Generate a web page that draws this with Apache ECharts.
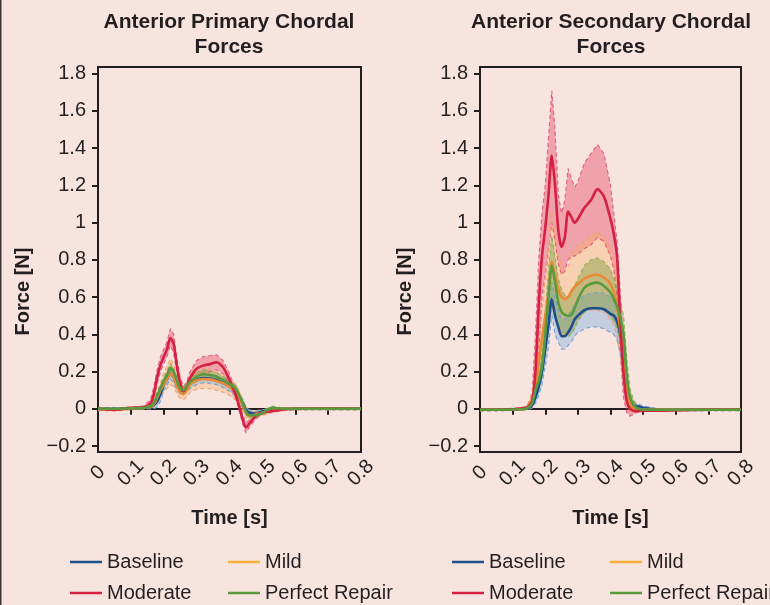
<!DOCTYPE html>
<html>
<head>
<meta charset="utf-8">
<title>Anterior Chordal Forces</title>
<script src="https://cdn.jsdelivr.net/npm/echarts@6.0.0/dist/echarts.min.js"></script>
<style>
html,body{margin:0;padding:0;background:#f8e4df;}
#main{width:770px;height:605px;}
</style>
</head>
<body>
<div id="main"></div>
<script>
// ---------- Tick labels ----------
const yTicks = [-0.2, 0, 0.2, 0.4, 0.6, 0.8, 1, 1.2, 1.4, 1.6, 1.8];
const conditions = ['Baseline', 'Mild', 'Moderate', 'Perfect Repair'];

// ---------- Anterior Primary Chordal Forces (left) ----------
const timeA = [0, 0.05, 0.1, 0.14, 0.16, 0.17, 0.18, 0.19, 0.2, 0.21, 0.22, 0.23, 0.24, 0.25, 0.26, 0.27, 0.28, 0.3, 0.32, 0.34, 0.36, 0.38, 0.4, 0.42, 0.44, 0.45, 0.46, 0.48, 0.5, 0.53, 0.56, 0.6, 0.7, 0.8];

const baseA_mean = [0, 0, 0.002, 0.005, 0.01, 0.02, 0.04, 0.08, 0.13, 0.16, 0.19, 0.17, 0.13, 0.1, 0.095, 0.11, 0.135, 0.155, 0.165, 0.162, 0.155, 0.14, 0.12, 0.09, 0.03, -0.005, -0.02, -0.025, -0.015, -0.005, 0, 0, 0, 0];
const baseA_lo = [-0.005, -0.005, -0.003, 0, 0, 0, 0.01, 0.04, 0.1, 0.13, 0.16, 0.14, 0.1, 0.08, 0.075, 0.09, 0.11, 0.13, 0.14, 0.137, 0.13, 0.115, 0.095, 0.065, 0.005, -0.025, -0.035, -0.035, -0.025, -0.012, -0.005, -0.005, -0.004, -0.004];
const baseA_hi = [0.005, 0.005, 0.006, 0.01, 0.02, 0.035, 0.065, 0.11, 0.15, 0.18, 0.21, 0.19, 0.15, 0.12, 0.11, 0.13, 0.155, 0.175, 0.185, 0.185, 0.178, 0.163, 0.143, 0.11, 0.05, 0.012, -0.005, -0.012, -0.005, 0.002, 0.005, 0.004, 0.004, 0.004];

const mildA_mean = [0, -0.005, 0.002, 0.005, 0.012, 0.025, 0.06, 0.1, 0.13, 0.16, 0.19, 0.17, 0.12, 0.09, 0.08, 0.1, 0.13, 0.152, 0.16, 0.158, 0.15, 0.138, 0.118, 0.088, 0.02, -0.02, -0.04, -0.03, -0.02, -0.01, 0, 0, 0, 0];
const mildA_lo = [-0.01, -0.012, -0.005, 0, 0.005, 0.01, 0.04, 0.07, 0.09, 0.11, 0.13, 0.12, 0.08, 0.055, 0.05, 0.065, 0.09, 0.105, 0.11, 0.108, 0.1, 0.09, 0.072, 0.045, -0.01, -0.045, -0.06, -0.05, -0.035, -0.02, -0.008, -0.005, -0.005, -0.005];
const mildA_hi = [0.008, 0.002, 0.01, 0.012, 0.02, 0.045, 0.09, 0.14, 0.19, 0.23, 0.27, 0.24, 0.17, 0.13, 0.115, 0.14, 0.17, 0.2, 0.21, 0.21, 0.2, 0.185, 0.16, 0.13, 0.05, 0.01, -0.015, -0.01, -0.005, 0, 0.008, 0.005, 0.005, 0.005];

const modA_mean = [0, -0.005, 0.005, 0.01, 0.03, 0.08, 0.17, 0.235, 0.28, 0.32, 0.38, 0.35, 0.23, 0.14, 0.095, 0.12, 0.165, 0.215, 0.232, 0.24, 0.25, 0.225, 0.155, 0.07, -0.055, -0.1, -0.08, -0.04, -0.02, -0.012, -0.005, 0, 0, 0];
const modA_lo = [-0.005, -0.01, 0, 0.005, 0.015, 0.05, 0.13, 0.2, 0.245, 0.28, 0.34, 0.3, 0.19, 0.11, 0.075, 0.095, 0.13, 0.17, 0.19, 0.2, 0.21, 0.19, 0.125, 0.05, -0.08, -0.13, -0.1, -0.055, -0.03, -0.02, -0.01, -0.005, -0.005, -0.005];
const modA_hi = [0.005, 0, 0.01, 0.015, 0.05, 0.12, 0.21, 0.28, 0.32, 0.36, 0.43, 0.4, 0.27, 0.17, 0.12, 0.145, 0.2, 0.26, 0.28, 0.285, 0.29, 0.26, 0.19, 0.09, -0.03, -0.075, -0.06, -0.025, -0.01, -0.004, 0.003, 0.005, 0.005, 0.005];

const repA_mean = [0, 0, 0.003, 0.005, 0.015, 0.03, 0.07, 0.11, 0.15, 0.18, 0.22, 0.2, 0.15, 0.11, 0.1, 0.12, 0.145, 0.172, 0.186, 0.182, 0.172, 0.155, 0.135, 0.105, 0.03, -0.015, -0.035, -0.035, -0.022, 0.005, 0, 0, 0, 0];
const repA_lo = [-0.004, -0.004, -0.002, 0, 0.005, 0.015, 0.05, 0.09, 0.13, 0.16, 0.195, 0.18, 0.13, 0.09, 0.085, 0.1, 0.125, 0.15, 0.163, 0.16, 0.15, 0.135, 0.115, 0.085, 0.01, -0.03, -0.05, -0.048, -0.032, -0.005, -0.005, -0.004, -0.004, -0.004];
const repA_hi = [0.004, 0.004, 0.008, 0.01, 0.025, 0.045, 0.09, 0.13, 0.17, 0.2, 0.245, 0.22, 0.17, 0.13, 0.115, 0.14, 0.165, 0.195, 0.21, 0.205, 0.195, 0.175, 0.155, 0.125, 0.05, 0, -0.02, -0.022, -0.01, 0.015, 0.005, 0.004, 0.004, 0.004];

// ---------- Anterior Secondary Chordal Forces (right) ----------
const timeB = [0, 0.05, 0.1, 0.14, 0.15, 0.16, 0.17, 0.18, 0.19, 0.2, 0.21, 0.22, 0.23, 0.24, 0.25, 0.26, 0.27, 0.28, 0.29, 0.3, 0.32, 0.34, 0.36, 0.38, 0.4, 0.41, 0.42, 0.43, 0.44, 0.45, 0.46, 0.47, 0.48, 0.5, 0.55, 0.6, 0.7, 0.8];

const baseB_mean = [-0.005, -0.005, -0.004, 0, 0.005, 0.02, 0.06, 0.12, 0.2, 0.32, 0.45, 0.59, 0.5, 0.44, 0.39, 0.39, 0.41, 0.44, 0.48, 0.5, 0.53, 0.54, 0.54, 0.535, 0.51, 0.5, 0.47, 0.4, 0.28, 0.12, 0.05, 0.02, 0.015, 0.005, -0.005, -0.005, -0.005, -0.005];
const baseB_lo = [-0.01, -0.01, -0.008, -0.005, -0.002, 0.005, 0.03, 0.07, 0.13, 0.23, 0.34, 0.5, 0.4, 0.36, 0.32, 0.32, 0.34, 0.36, 0.39, 0.41, 0.43, 0.44, 0.44, 0.43, 0.41, 0.4, 0.37, 0.3, 0.18, 0.05, 0.01, 0, -0.005, -0.008, -0.01, -0.01, -0.01, -0.01];
const baseB_hi = [0, 0, 0, 0.005, 0.012, 0.035, 0.09, 0.17, 0.27, 0.41, 0.56, 0.68, 0.6, 0.53, 0.48, 0.48, 0.5, 0.53, 0.56, 0.58, 0.61, 0.62, 0.625, 0.62, 0.6, 0.59, 0.56, 0.5, 0.38, 0.2, 0.08, 0.04, 0.03, 0.015, 0, 0, 0, 0];

const mildB_mean = [-0.005, -0.005, -0.004, 0.002, 0.02, 0.05, 0.12, 0.25, 0.38, 0.5, 0.62, 0.79, 0.72, 0.64, 0.6, 0.59, 0.6, 0.63, 0.655, 0.67, 0.7, 0.715, 0.72, 0.705, 0.67, 0.63, 0.55, 0.42, 0.25, 0.1, 0.03, 0, -0.005, -0.005, -0.005, -0.005, -0.005, -0.005];
const mildB_lo = [-0.01, -0.01, -0.008, -0.004, 0.005, 0.02, 0.06, 0.14, 0.24, 0.33, 0.43, 0.55, 0.5, 0.45, 0.41, 0.39, 0.4, 0.43, 0.46, 0.49, 0.52, 0.53, 0.53, 0.52, 0.48, 0.45, 0.39, 0.28, 0.14, 0.03, -0.005, -0.01, -0.01, -0.01, -0.01, -0.01, -0.01, -0.01];
const mildB_hi = [0, 0, 0, 0.008, 0.04, 0.09, 0.2, 0.38, 0.54, 0.7, 0.84, 1.06, 0.95, 0.82, 0.77, 0.75, 0.76, 0.82, 0.86, 0.88, 0.9, 0.93, 0.95, 0.92, 0.86, 0.8, 0.7, 0.56, 0.36, 0.17, 0.07, 0.02, 0.005, 0, 0, 0, 0, 0];

const modB_mean = [-0.005, -0.005, -0.003, 0.005, 0.015, 0.04, 0.2, 0.55, 0.82, 0.97, 1.15, 1.36, 1.2, 0.96, 0.87, 0.92, 1.06, 1.03, 1.0, 1.02, 1.08, 1.12, 1.18, 1.14, 1.02, 0.94, 0.82, 0.46, 0.19, 0.04, 0, -0.01, -0.012, -0.01, -0.01, -0.008, -0.005, -0.005];
const modB_lo = [-0.01, -0.01, -0.008, -0.002, 0, 0.005, 0.05, 0.3, 0.6, 0.72, 0.85, 1.0, 0.9, 0.78, 0.72, 0.74, 0.8, 0.82, 0.82, 0.83, 0.86, 0.88, 0.92, 0.9, 0.82, 0.75, 0.6, 0.3, 0.06, -0.02, -0.04, -0.03, -0.02, -0.015, -0.012, -0.01, -0.008, -0.008];
const modB_hi = [0, 0, 0.002, 0.01, 0.03, 0.09, 0.4, 0.8, 1.05, 1.2, 1.45, 1.71, 1.5, 1.15, 1.05, 1.12, 1.29, 1.24, 1.19, 1.22, 1.32, 1.37, 1.42, 1.37, 1.2, 1.05, 0.9, 0.62, 0.3, 0.1, 0.02, 0, -0.005, -0.003, 0, 0, 0, 0];

const repB_mean = [-0.005, -0.005, -0.004, 0, 0.01, 0.03, 0.1, 0.15, 0.23, 0.4, 0.6, 0.77, 0.68, 0.57, 0.52, 0.505, 0.5, 0.505, 0.54, 0.586, 0.65, 0.672, 0.678, 0.66, 0.625, 0.59, 0.55, 0.49, 0.4, 0.17, 0.06, 0.025, 0.005, -0.005, -0.005, -0.005, -0.005, -0.005];
const repB_lo = [-0.01, -0.01, -0.008, -0.004, 0, 0.015, 0.06, 0.1, 0.16, 0.3, 0.47, 0.62, 0.52, 0.44, 0.4, 0.39, 0.39, 0.4, 0.43, 0.47, 0.52, 0.54, 0.545, 0.53, 0.5, 0.47, 0.43, 0.36, 0.28, 0.08, 0.01, 0, -0.008, -0.01, -0.01, -0.01, -0.01, -0.01];
const repB_hi = [0, 0, 0, 0.005, 0.02, 0.05, 0.14, 0.21, 0.31, 0.52, 0.75, 0.93, 0.82, 0.7, 0.64, 0.61, 0.6, 0.62, 0.66, 0.7, 0.77, 0.8, 0.81, 0.79, 0.75, 0.7, 0.65, 0.58, 0.5, 0.27, 0.11, 0.05, 0.02, 0.005, 0, 0, 0, 0];

// ---------- Styles ----------
const FONT = '"Liberation Sans", Arial, Helvetica, sans-serif';
const INK = '#231f20';
const BG = '#f8e4df';
const lineColors = { 'Baseline': '#1d4f8c', 'Mild': '#ea8a35', 'Moderate': '#d51f43', 'Perfect Repair': '#5b9a3c' };
const legendColors = { 'Baseline': '#1d4f8c', 'Mild': '#f6b13a', 'Moderate': '#d51f43', 'Perfect Repair': '#5b9a3c' };
const bandFill = { 'Baseline': 'rgba(110,170,225,0.38)', 'Mild': 'rgba(248,175,95,0.35)', 'Moderate': 'rgba(225,55,85,0.38)', 'Perfect Repair': 'rgba(110,150,45,0.38)' };
const bandEdge = { 'Baseline': '#6d9fd2', 'Mild': '#f2a070', 'Moderate': '#e0587a', 'Perfect Repair': '#8db05c' };

const setsA = {
  'Baseline': { mean: baseA_mean, lo: baseA_lo, hi: baseA_hi },
  'Mild': { mean: mildA_mean, lo: mildA_lo, hi: mildA_hi },
  'Moderate': { mean: modA_mean, lo: modA_lo, hi: modA_hi },
  'Perfect Repair': { mean: repA_mean, lo: repA_lo, hi: repA_hi }
};
const setsB = {
  'Baseline': { mean: baseB_mean, lo: baseB_lo, hi: baseB_hi },
  'Mild': { mean: mildB_mean, lo: mildB_lo, hi: mildB_hi },
  'Moderate': { mean: modB_mean, lo: modB_lo, hi: modB_hi },
  'Perfect Repair': { mean: repB_mean, lo: repB_lo, hi: repB_hi }
};

function buildSeries(gi, T, sets) {
  const out = [];
  ['Moderate', 'Mild', 'Baseline', 'Perfect Repair'].forEach(function (nm) {
    const s = sets[nm];
    out.push({
      type: 'custom', xAxisIndex: gi, yAxisIndex: gi, silent: true, z: 2,
      data: T.map(function (t, i) { return [t, s.lo[i], s.hi[i]]; }),
      encode: { x: 0, y: [1, 2] },
      renderItem: function (params, api) {
        if (params.dataIndex !== 0) return null;
        const up = T.map(function (t, i) { return api.coord([t, s.hi[i]]); });
        const dn = T.map(function (t, i) { return api.coord([t, s.lo[i]]); }).reverse();
        return { type: 'polygon', shape: { points: up.concat(dn) }, style: { fill: bandFill[nm] } };
      }
    });
    ['lo', 'hi'].forEach(function (key) {
      out.push({
        type: 'line', xAxisIndex: gi, yAxisIndex: gi, silent: true, symbol: 'none', z: 3,
        data: T.map(function (t, i) { return [t, s[key][i]]; }),
        lineStyle: { color: bandEdge[nm], width: 1.2, type: [4, 3], opacity: 0.9 }
      });
    });
  });
  conditions.forEach(function (nm) {
    out.push({
      name: nm, type: 'line', xAxisIndex: gi, yAxisIndex: gi, symbol: 'none', smooth: 0.25, z: 5,
      color: lineColors[nm],
      data: T.map(function (t, i) { return [t, sets[nm].mean[i]]; }),
      lineStyle: { color: lineColors[nm], width: 2.6 }
    });
  });
  return out;
}

function xAxisFor(gi) {
  return {
    type: 'value', gridIndex: gi, min: 0, max: 0.8, interval: 0.1,
    axisLine: { show: true, lineStyle: { color: INK, width: 2 } },
    axisTick: { show: true, length: 6, lineStyle: { color: INK, width: 2 } },
    axisLabel: { rotate: 45, align: 'center', verticalAlign: 'middle', margin: 21, fontSize: 20, color: INK, fontFamily: FONT },
    splitLine: { show: false },
    name: 'Time [s]', nameLocation: 'middle', nameGap: 56,
    nameTextStyle: { fontSize: 20, fontWeight: 'bold', color: INK, fontFamily: FONT }
  };
}
function yAxisFor(gi) {
  return {
    type: 'value', gridIndex: gi, min: -0.232, max: 1.836,
    axisLine: { show: true, lineStyle: { color: INK, width: 2 } },
    axisTick: { show: true, length: 6, customValues: yTicks, lineStyle: { color: INK, width: 2 } },
    axisLabel: {
      customValues: yTicks, margin: 12, fontSize: 20, color: INK, fontFamily: FONT,
      formatter: function (v) { return v < 0 ? '\u2212' + String(Math.abs(v)) : String(v); }
    },
    splitLine: { show: false },
    name: 'Force [N]', nameLocation: 'middle', nameRotate: 90, nameGap: 65,
    nameTextStyle: { fontSize: 20, fontWeight: 'bold', color: INK, fontFamily: FONT, padding: [0, 64, 0, 0] }
  };
}
function legendAt(left, names) {
  return {
    orient: 'vertical', left: left, top: 552, padding: 0, itemGap: 11,
    itemWidth: 32, itemHeight: 2.5, icon: 'rect', selectedMode: false,
    data: names.map(function (n) { return { name: n, itemStyle: { color: legendColors[n], borderWidth: 0 } }; }),
    textStyle: { fontSize: 20, lineHeight: 20, color: INK, fontFamily: FONT }
  };
}

const chart = echarts.init(document.getElementById('main'), null, { renderer: 'canvas' });
chart.setOption({
  animation: false,
  backgroundColor: BG,
  textStyle: { fontFamily: FONT },
  grid: [
    { left: 98, top: 67, width: 263, height: 385, show: true, borderColor: INK, borderWidth: 2, backgroundColor: 'transparent' },
    { left: 480, top: 67, width: 261, height: 385, show: true, borderColor: INK, borderWidth: 2, backgroundColor: 'transparent' }
  ],
  xAxis: [xAxisFor(0), xAxisFor(1)],
  yAxis: [yAxisFor(0), yAxisFor(1)],
  legend: [
    legendAt(70, ['Baseline', 'Moderate']),
    legendAt(228, ['Mild', 'Perfect Repair']),
    legendAt(452, ['Baseline', 'Moderate']),
    legendAt(610, ['Mild', 'Perfect Repair'])
  ],
  graphic: [
    { type: 'line', shape: { x1: 0.75, y1: 0, x2: 0.75, y2: 605 }, style: { stroke: '#3a3536', lineWidth: 1.5 } },
    { type: 'text', x: 229, y: 10, style: { text: 'Anterior Primary Chordal\nForces', align: 'center', fontSize: 21, fontWeight: 'bold', lineHeight: 25, fill: INK, fontFamily: FONT } },
    { type: 'text', x: 611, y: 10, style: { text: 'Anterior Secondary Chordal\nForces', align: 'center', fontSize: 21, fontWeight: 'bold', lineHeight: 25, fill: INK, fontFamily: FONT } }
  ],
  series: buildSeries(0, timeA, setsA).concat(buildSeries(1, timeB, setsB))
});
</script>
</body>
</html>
